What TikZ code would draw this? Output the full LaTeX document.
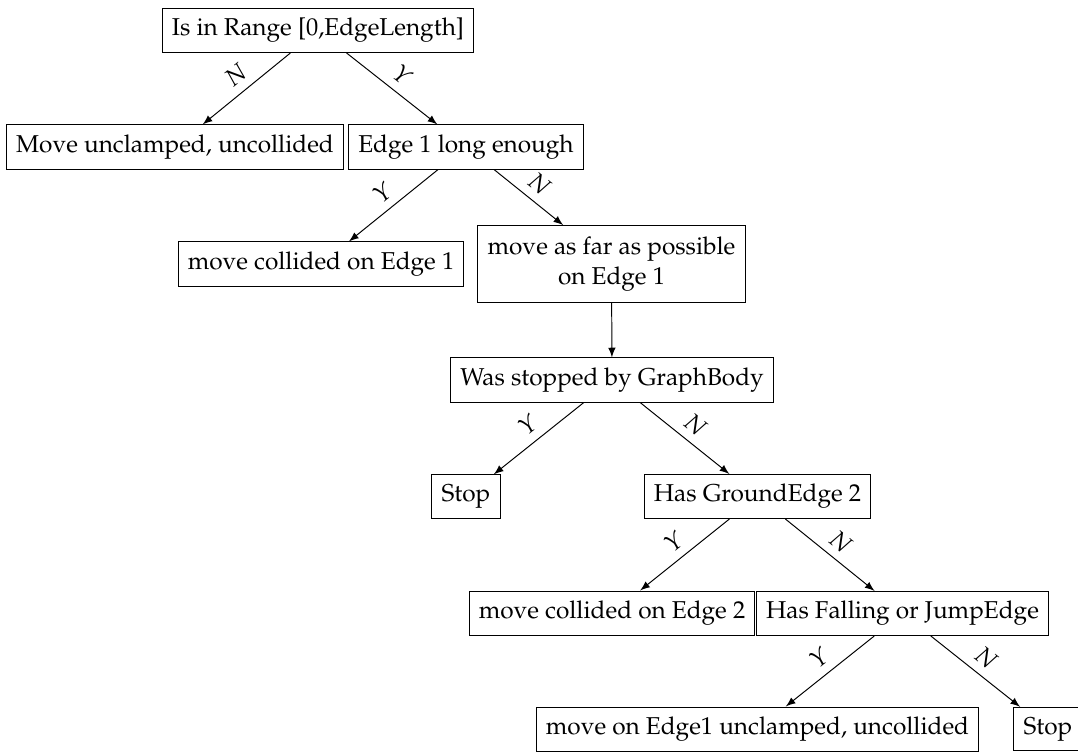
\documentclass[tikz,border=0pt]{standalone}
\usepackage[T1]{fontenc}
\usepackage{mathpazo}
\usetikzlibrary{arrows}
\tikzset{
  box/.style={draw, line width=0.4pt, inner sep=4pt, align=center},
  conn/.style={->, >=latex, line width=0.4pt},
  lbl/.style={midway, above, sloped}
}
\begin{document}
\begin{tikzpicture}[x=0.41pt, y=-0.41pt]
\useasboundingbox (0,0) rectangle (1078,752);
\node[box] (root) at (318,30.5) {Is in Range [0,EdgeLength]};
\node[box] (move) at (175,147) {Move unclamped, uncollided};
\node[box] (edge1) at (466,147) {Edge 1 long enough};
\node[box] (coll1) at (321,264) {move collided on Edge 1};
\node[box, inner ysep=4.7pt] (far) at (611.5,264) {move as far as possible\\on Edge 1};
\node[box] (was) at (612,380) {Was stopped by GraphBody};
\node[box] (stopa) at (466,496.5) {Stop};
\node[box] (ground) at (757.5,496.5) {Has GroundEdge 2};
\node[box] (coll2) at (612,613) {move collided on Edge 2};
\node[box] (fall) at (902.5,613.5) {Has Falling or JumpEdge};
\node[box] (moe) at (757.5,729) {move on Edge1 unclamped, uncollided};
\node[box] (stopb) at (1048,729) {Stop};
\draw[conn] (root) -- node[lbl] {$N$} (move);
\draw[conn] (root) -- node[lbl] {$Y$} (edge1);
\draw[conn] (edge1) -- node[lbl] {$Y$} (coll1);
\draw[conn] (edge1) -- node[lbl] {$N$} (far);
\draw[conn] (far) -- (was);
\draw[conn] (was) -- node[lbl] {$Y$} (stopa);
\draw[conn] (was) -- node[lbl] {$N$} (ground);
\draw[conn] (ground) -- node[lbl] {$Y$} (coll2);
\draw[conn] (ground) -- node[lbl] {$N$} (fall);
\draw[conn] (fall) -- node[lbl] {$Y$} (moe);
\draw[conn] (fall) -- node[lbl] {$N$} (stopb);
\end{tikzpicture}
\end{document}
